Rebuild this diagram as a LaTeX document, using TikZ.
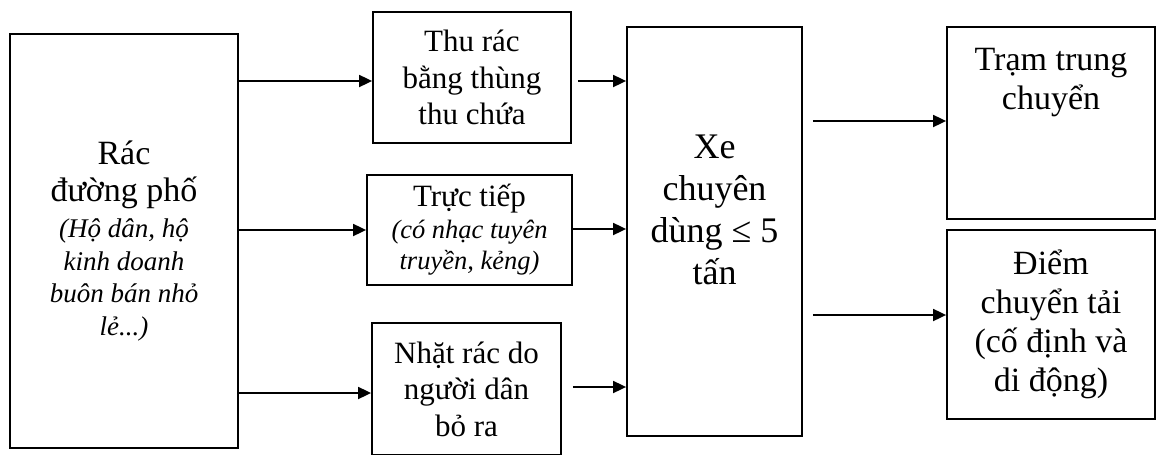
\documentclass[tikz,border=0pt]{standalone}
\usepackage{fontspec}
\setmainfont{Liberation Serif}
\usetikzlibrary{arrows.meta}
\begin{document}
\begin{tikzpicture}[x=1pt,y=-1pt,
  box/.style={draw,line width=1.8pt,inner sep=0pt,align=center},
  txt/.style={inner sep=0pt,align=center},
  arr/.style={line width=1.8pt,-{Triangle[length=13pt,width=12pt]}},
  fa/.style={font=\fontsize{34}{39}\selectfont},
  fb/.style={font=\fontsize{31}{36.5}\selectfont},
  fc/.style={font=\fontsize{36}{42}\selectfont},
  ]
\useasboundingbox (0,0) rectangle (1157,455);
\newcommand{\itA}{\fontsize{27}{32.5}\selectfont\itshape}
\newcommand{\itB}{\fontsize{26.5}{33}\selectfont\itshape}
% boxes
\node[box,fa,minimum width=228pt,minimum height=414pt] (src) at (124,241)
  {Rác\\[-2pt]đường phố\\[-3pt]{\itA (Hộ dân, hộ}\\[-6.5pt]{\itA kinh doanh}\\[-6.5pt]{\itA buôn bán nhỏ}\\[-6.5pt]{\itA lẻ...)}};
\node[box,fb,minimum width=198pt,minimum height=131pt] (thu) at (472,77.5)
  {Thu rác\\bằng thùng\\thu chứa};
\node[box,fb,minimum width=205pt,minimum height=110pt] (truc) at (469.5,230)
  {Trực tiếp\\[-5pt]{\itB (có nhạc tuyên}\\[-5pt]{\itB truyền, kẻng)}};
\node[box,fb,minimum width=189pt,minimum height=132pt] (nhat) at (466.5,389)
  {Nhặt rác do\\người dân\\bỏ ra};
\node[box,minimum width=175pt,minimum height=409pt] (xe) at (714.5,231.5) {};
\node[txt,fc] (xetext) at (714.5,210) {Xe\\chuyên\\dùng ≤ 5\\tấn};
\node[box,minimum width=208pt,minimum height=192pt] (tram) at (1051,123) {};
\node[txt,fa] (tramtext) at (1051,83) {Trạm trung\\chuyển};
\node[box,fa,minimum width=208pt,minimum height=189pt] (diem) at (1051,324.5)
  {Điểm\\chuyển tải\\(cố định và\\di động)};
% connectors
\draw[arr] (src.east |- 0,81) -- (thu.west |- 0,81);
\draw[arr] (src.east |- 0,230) -- (truc.west |- 0,230);
\draw[arr] (src.east |- 0,393) -- (nhat.west |- 0,393);
\draw[arr] ([xshift=6pt]thu.east |- 0,81) -- (xe.west |- 0,81);
\draw[arr] (truc.east |- 0,229) -- (xe.west |- 0,229);
\draw[arr] ([xshift=11pt]nhat.east |- 0,387) -- (xe.west |- 0,387);
\draw[arr] ([xshift=10pt]xe.east |- 0,121) -- (tram.west |- 0,121);
\draw[arr] ([xshift=10pt]xe.east |- 0,315) -- (diem.west |- 0,315);
\end{tikzpicture}
\end{document}
